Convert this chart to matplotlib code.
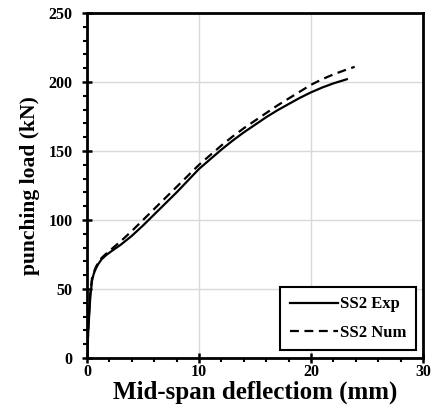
import matplotlib.pyplot as plt
from matplotlib.ticker import MultipleLocator

exp_x = [0, 0.15, 0.3, 0.45, 0.6, 0.8, 1.0, 1.3, 1.7, 2.2, 3.0, 4.0, 5.0, 6.0, 7.0, 8.0, 9.0, 10.0, 11.0,
         12.0, 13.0, 14.0, 15.0, 16.0, 17.0, 18.0, 19.0, 20.0, 21.0, 22.0, 23.2]
exp_y = [0, 25, 45, 56, 61, 65, 68, 71.5, 74.5, 77.5, 82, 88.5, 96, 104, 112, 120, 128.5, 137, 144,
         151, 157.5, 163.5, 169, 174.5, 179.5, 184, 188.5, 192.5, 196, 199, 202]
num_x = [0, 0.15, 0.3, 0.45, 0.6, 0.8, 1.0, 1.3, 1.7, 2.2, 3.0, 4.0, 5.0, 6.0, 7.0, 8.0, 9.0, 10.0, 11.0,
         12.0, 13.0, 14.0, 15.0, 16.0, 17.0, 18.0, 19.0, 20.0, 21.0, 22.0, 23.0, 23.9]
num_y = [0, 28, 48, 58, 62, 66, 69, 72.5, 75.5, 79, 84.5, 92, 100, 108, 116, 124, 132, 140, 147,
         154, 160.5, 166.5, 172, 177.5, 183, 188, 193, 198, 202, 205.5, 208.5, 211]

plt.rcParams['font.family'] = ['Liberation Serif', 'DejaVu Serif']
plt.rcParams['font.weight'] = 'bold'

fig = plt.figure(figsize=(4.38, 4.11), dpi=100)
ax = fig.add_axes([87/438, 53/411, 336/438, 345/411])

ax.plot(exp_x, exp_y, "k-", lw=1.6, label="SS2 Exp")
ax.plot(num_x, num_y, "k--", lw=1.6, dashes=(4, 2.5), label="SS2 Num")

ax.set_xlim(0, 30)
ax.set_ylim(0, 250)
ax.xaxis.set_major_locator(MultipleLocator(10))
ax.xaxis.set_minor_locator(MultipleLocator(2))
ax.yaxis.set_major_locator(MultipleLocator(50))
ax.yaxis.set_minor_locator(MultipleLocator(10))
ax.tick_params(which="major", direction="inout", length=7, width=1.8, labelsize=11.5)
ax.tick_params(which="minor", direction="out", length=3, width=1.5)
ax.tick_params(axis="x", which="major", pad=0.5)
ax.tick_params(axis="y", which="major", pad=7)
ax.grid(True, which="major", color="#d9d9d9", lw=1)
ax.set_axisbelow(True)
for s in ax.spines.values():
    s.set_linewidth(2)

ax.set_xlabel("Mid-span deflectiom (mm)", fontsize=18, fontweight="bold", labelpad=0.5)
ax.set_ylabel("punching load (kN)", fontsize=15.5, fontweight="bold", labelpad=6)

leg = ax.legend(loc="lower right", fontsize=12, fancybox=False, framealpha=1,
                edgecolor="black", handlelength=2.9, labelspacing=0.75,
                borderpad=0.55, handletextpad=0.15, borderaxespad=0,
                bbox_to_anchor=(0.979, 0.023))
leg.get_frame().set_linewidth(1.5)

plt.savefig("out.png", dpi=100)
